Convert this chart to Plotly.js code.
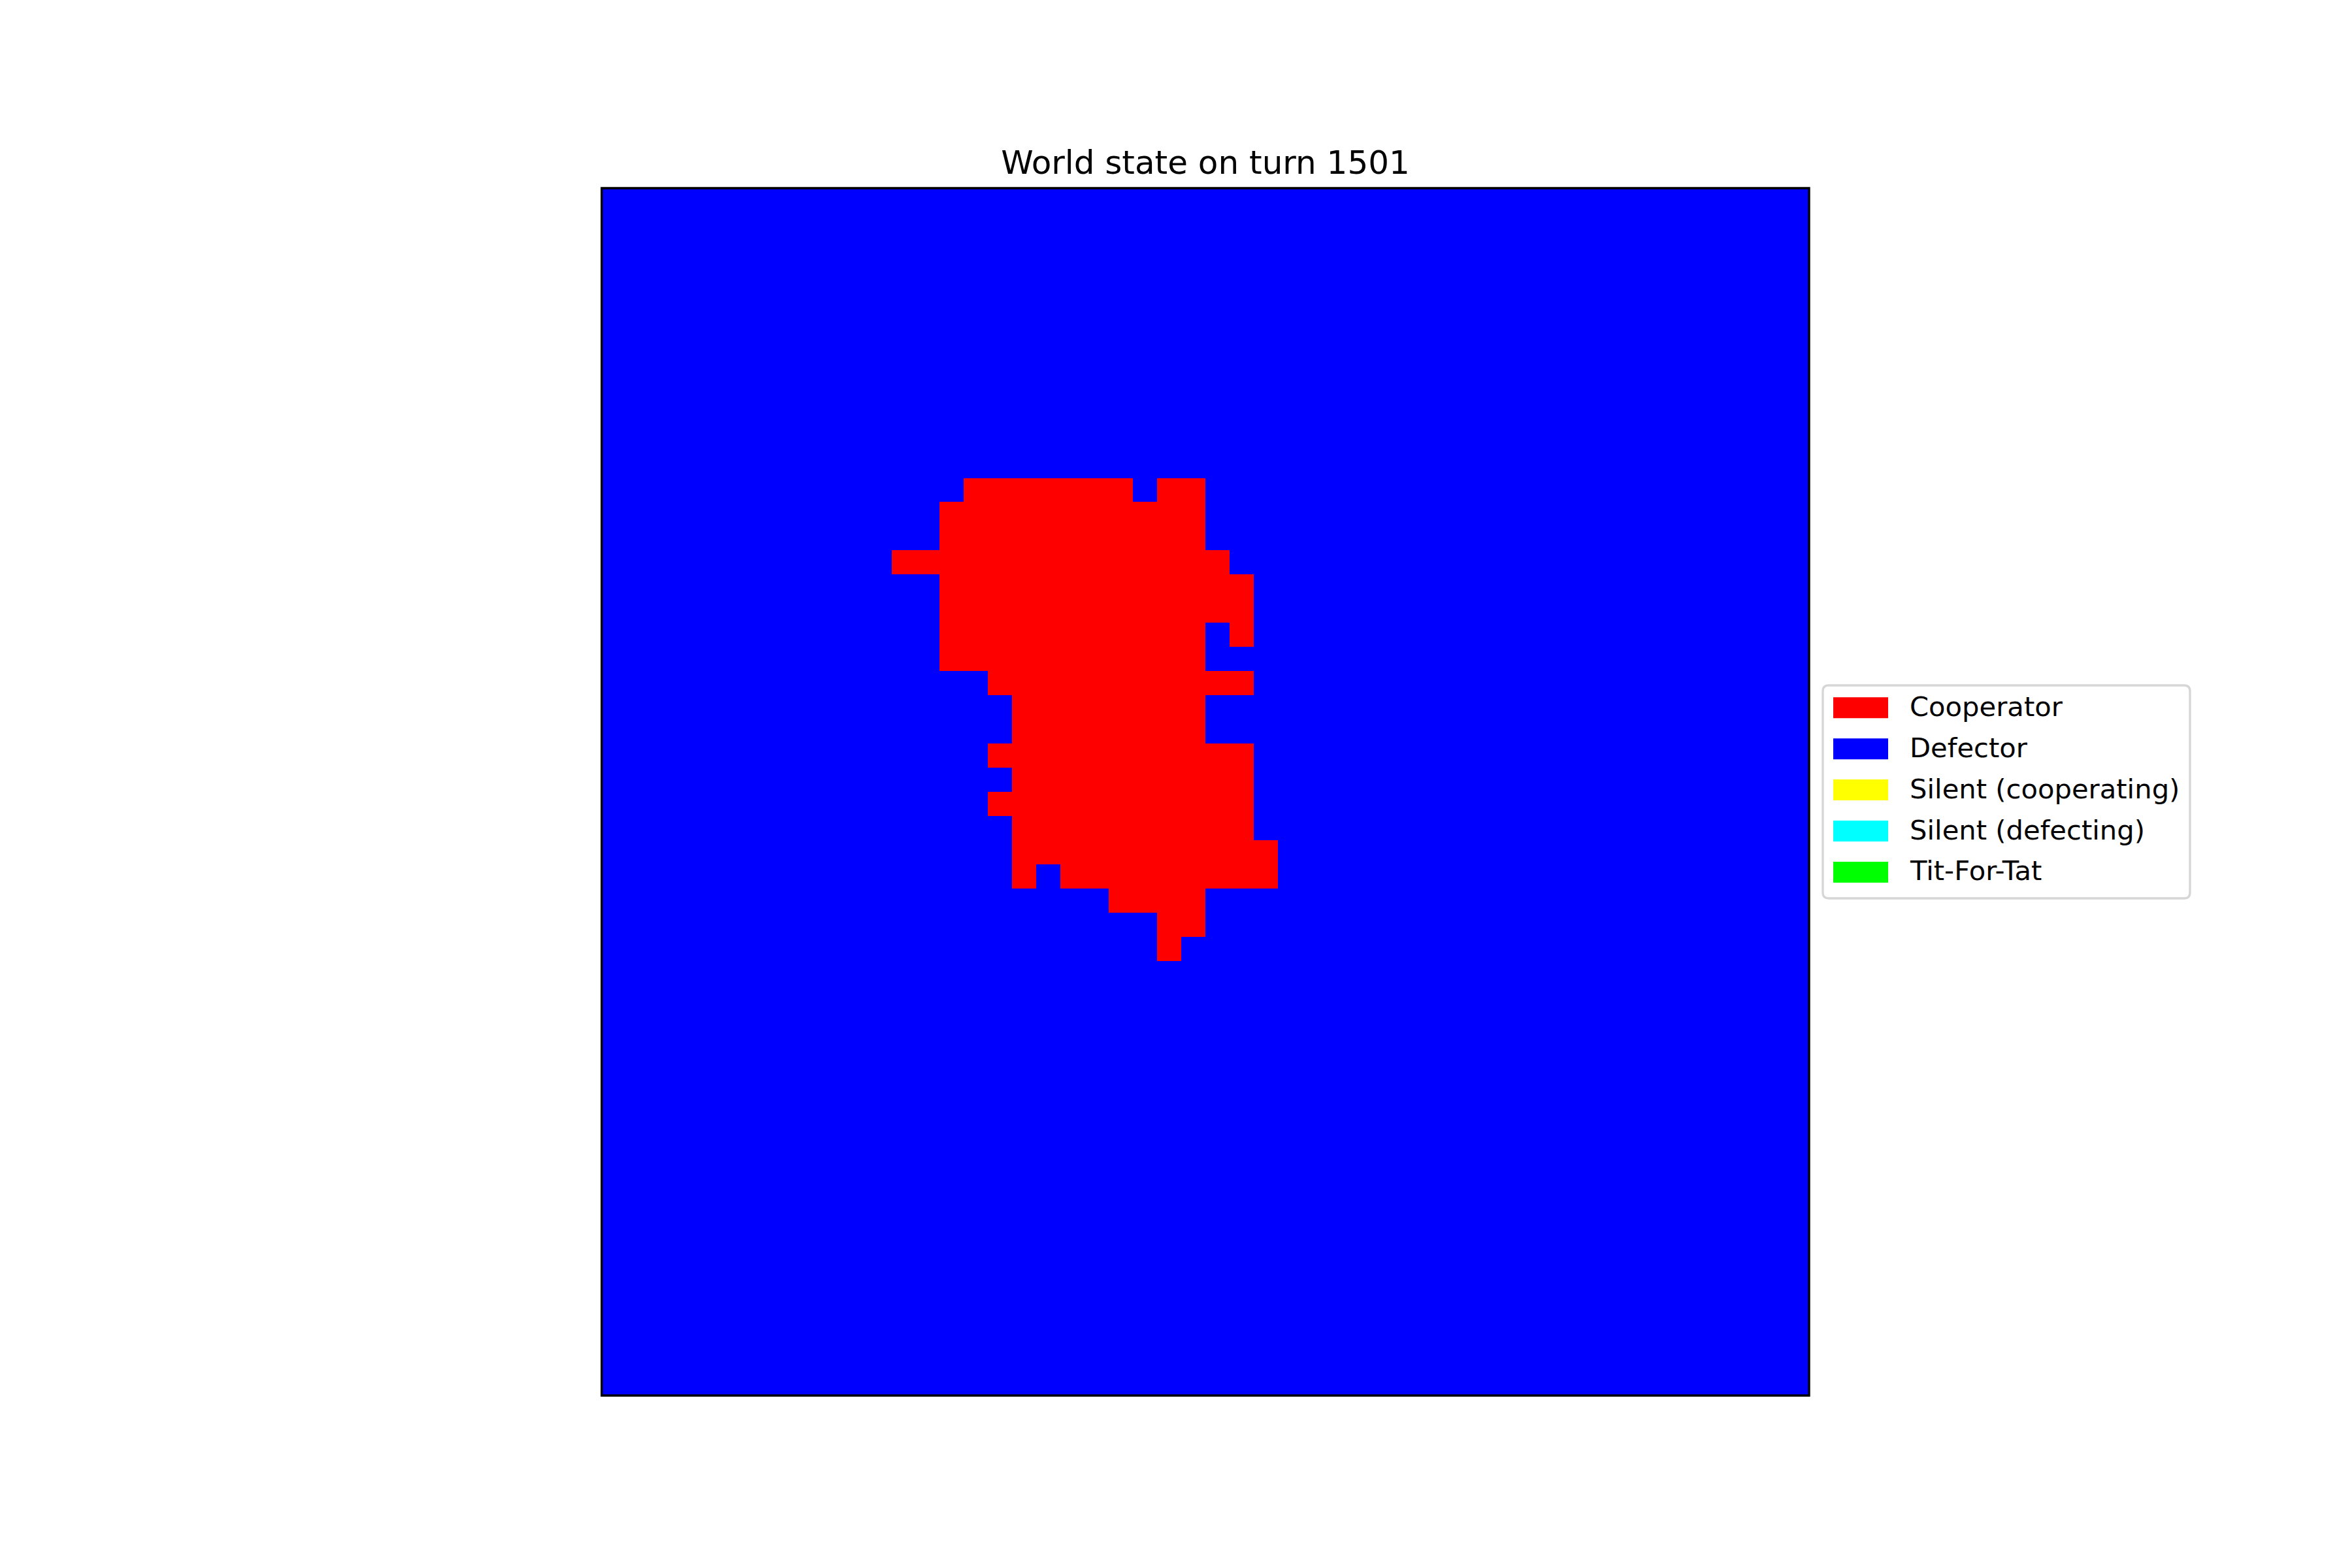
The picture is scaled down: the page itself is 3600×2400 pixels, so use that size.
<!DOCTYPE html>
<html><head><meta charset="utf-8">
<script src="https://cdn.plot.ly/plotly-3.0.1.min.js"></script>
<style>html,body{margin:0;padding:0;background:#fff}</style>
</head><body><div id="chart" style="width:3600px;height:2400px"></div>
<script>
const titleText = 'World state on turn 1501';
const stateNames = ['Cooperator', 'Defector', 'Silent (cooperating)', 'Silent (defecting)', 'Tit-For-Tat'];
const stateColors = ['#ff0000', '#0000ff', '#ffff00', '#00ffff', '#00ff00'];
const stateCodes = ['C', 'D', 'Y', 'S', 'T'];
// 50 x 50 world grid, row 0 at top; one letter per cell (groups of 10 separated by spaces)
const worldRows = [
"DDDDDDDDDD DDDDDDDDDD DDDDDDDDDD DDDDDDDDDD DDDDDDDDDD",
"DDDDDDDDDD DDDDDDDDDD DDDDDDDDDD DDDDDDDDDD DDDDDDDDDD",
"DDDDDDDDDD DDDDDDDDDD DDDDDDDDDD DDDDDDDDDD DDDDDDDDDD",
"DDDDDDDDDD DDDDDDDDDD DDDDDDDDDD DDDDDDDDDD DDDDDDDDDD",
"DDDDDDDDDD DDDDDDDDDD DDDDDDDDDD DDDDDDDDDD DDDDDDDDDD",
"DDDDDDDDDD DDDDDDDDDD DDDDDDDDDD DDDDDDDDDD DDDDDDDDDD",
"DDDDDDDDDD DDDDDDDDDD DDDDDDDDDD DDDDDDDDDD DDDDDDDDDD",
"DDDDDDDDDD DDDDDDDDDD DDDDDDDDDD DDDDDDDDDD DDDDDDDDDD",
"DDDDDDDDDD DDDDDDDDDD DDDDDDDDDD DDDDDDDDDD DDDDDDDDDD",
"DDDDDDDDDD DDDDDDDDDD DDDDDDDDDD DDDDDDDDDD DDDDDDDDDD",
"DDDDDDDDDD DDDDDDDDDD DDDDDDDDDD DDDDDDDDDD DDDDDDDDDD",
"DDDDDDDDDD DDDDDDDDDD DDDDDDDDDD DDDDDDDDDD DDDDDDDDDD",
"DDDDDDDDDD DDDDDCCCCC CCDCCDDDDD DDDDDDDDDD DDDDDDDDDD",
"DDDDDDDDDD DDDDCCCCCC CCCCCDDDDD DDDDDDDDDD DDDDDDDDDD",
"DDDDDDDDDD DDDDCCCCCC CCCCCDDDDD DDDDDDDDDD DDDDDDDDDD",
"DDDDDDDDDD DDCCCCCCCC CCCCCCDDDD DDDDDDDDDD DDDDDDDDDD",
"DDDDDDDDDD DDDDCCCCCC CCCCCCCDDD DDDDDDDDDD DDDDDDDDDD",
"DDDDDDDDDD DDDDCCCCCC CCCCCCCDDD DDDDDDDDDD DDDDDDDDDD",
"DDDDDDDDDD DDDDCCCCCC CCCCCDCDDD DDDDDDDDDD DDDDDDDDDD",
"DDDDDDDDDD DDDDCCCCCC CCCCCDDDDD DDDDDDDDDD DDDDDDDDDD",
"DDDDDDDDDD DDDDDDCCCC CCCCCCCDDD DDDDDDDDDD DDDDDDDDDD",
"DDDDDDDDDD DDDDDDDCCC CCCCCDDDDD DDDDDDDDDD DDDDDDDDDD",
"DDDDDDDDDD DDDDDDDCCC CCCCCDDDDD DDDDDDDDDD DDDDDDDDDD",
"DDDDDDDDDD DDDDDDCCCC CCCCCCCDDD DDDDDDDDDD DDDDDDDDDD",
"DDDDDDDDDD DDDDDDDCCC CCCCCCCDDD DDDDDDDDDD DDDDDDDDDD",
"DDDDDDDDDD DDDDDDCCCC CCCCCCCDDD DDDDDDDDDD DDDDDDDDDD",
"DDDDDDDDDD DDDDDDDCCC CCCCCCCDDD DDDDDDDDDD DDDDDDDDDD",
"DDDDDDDDDD DDDDDDDCCC CCCCCCCCDD DDDDDDDDDD DDDDDDDDDD",
"DDDDDDDDDD DDDDDDDCDC CCCCCCCCDD DDDDDDDDDD DDDDDDDDDD",
"DDDDDDDDDD DDDDDDDDDD DCCCCDDDDD DDDDDDDDDD DDDDDDDDDD",
"DDDDDDDDDD DDDDDDDDDD DDDCCDDDDD DDDDDDDDDD DDDDDDDDDD",
"DDDDDDDDDD DDDDDDDDDD DDDCDDDDDD DDDDDDDDDD DDDDDDDDDD",
"DDDDDDDDDD DDDDDDDDDD DDDDDDDDDD DDDDDDDDDD DDDDDDDDDD",
"DDDDDDDDDD DDDDDDDDDD DDDDDDDDDD DDDDDDDDDD DDDDDDDDDD",
"DDDDDDDDDD DDDDDDDDDD DDDDDDDDDD DDDDDDDDDD DDDDDDDDDD",
"DDDDDDDDDD DDDDDDDDDD DDDDDDDDDD DDDDDDDDDD DDDDDDDDDD",
"DDDDDDDDDD DDDDDDDDDD DDDDDDDDDD DDDDDDDDDD DDDDDDDDDD",
"DDDDDDDDDD DDDDDDDDDD DDDDDDDDDD DDDDDDDDDD DDDDDDDDDD",
"DDDDDDDDDD DDDDDDDDDD DDDDDDDDDD DDDDDDDDDD DDDDDDDDDD",
"DDDDDDDDDD DDDDDDDDDD DDDDDDDDDD DDDDDDDDDD DDDDDDDDDD",
"DDDDDDDDDD DDDDDDDDDD DDDDDDDDDD DDDDDDDDDD DDDDDDDDDD",
"DDDDDDDDDD DDDDDDDDDD DDDDDDDDDD DDDDDDDDDD DDDDDDDDDD",
"DDDDDDDDDD DDDDDDDDDD DDDDDDDDDD DDDDDDDDDD DDDDDDDDDD",
"DDDDDDDDDD DDDDDDDDDD DDDDDDDDDD DDDDDDDDDD DDDDDDDDDD",
"DDDDDDDDDD DDDDDDDDDD DDDDDDDDDD DDDDDDDDDD DDDDDDDDDD",
"DDDDDDDDDD DDDDDDDDDD DDDDDDDDDD DDDDDDDDDD DDDDDDDDDD",
"DDDDDDDDDD DDDDDDDDDD DDDDDDDDDD DDDDDDDDDD DDDDDDDDDD",
"DDDDDDDDDD DDDDDDDDDD DDDDDDDDDD DDDDDDDDDD DDDDDDDDDD",
"DDDDDDDDDD DDDDDDDDDD DDDDDDDDDD DDDDDDDDDD DDDDDDDDDD",
"DDDDDDDDDD DDDDDDDDDD DDDDDDDDDD DDDDDDDDDD DDDDDDDDDD"
];

const z = worldRows.map(r => r.replace(/ /g, '').split('').map(ch => stateCodes.indexOf(ch)));
const nCols = z[0].length, nRows = z.length;
const nStates = stateNames.length;
const colorscale = [];
stateColors.forEach((c, i) => {
  colorscale.push([i / nStates, c]);
  colorscale.push([(i + 1) / nStates, c]);
});

// layout geometry (pixels)
const W = 3600, H = 2400;
const plotL = 921, plotR = 2769, plotT = 288, plotB = 2136;
const pw = plotR - plotL, ph = plotB - plotT;
const X = px => (px - plotL) / pw;
const Y = py => (plotB - py) / ph;

const shapes = [{
  type: 'rect', xref: 'paper', yref: 'paper', x0: 0, y0: 0, x1: 1, y1: 1,
  line: {color: '#000000', width: 3.4}, fillcolor: 'rgba(0,0,0,0)', layer: 'above'
}];
// legend box
const bL = 2790, bR = 3352, bT = 1049, bB = 1375, rr = 9;
shapes.push({
  type: 'path', xref: 'paper', yref: 'paper', layer: 'above',
  path: `M ${X(bL + rr)},${Y(bT)} L ${X(bR - rr)},${Y(bT)} Q ${X(bR)},${Y(bT)} ${X(bR)},${Y(bT + rr)} ` +
        `L ${X(bR)},${Y(bB - rr)} Q ${X(bR)},${Y(bB)} ${X(bR - rr)},${Y(bB)} ` +
        `L ${X(bL + rr)},${Y(bB)} Q ${X(bL)},${Y(bB)} ${X(bL)},${Y(bB - rr)} ` +
        `L ${X(bL)},${Y(bT + rr)} Q ${X(bL)},${Y(bT)} ${X(bL + rr)},${Y(bT)} Z`,
  fillcolor: '#ffffff', line: {color: '#d6d6d6', width: 3.3}
});
const annotations = [];
const row0 = 1083.3, rowStep = 62.9, patchL = 2806, patchR = 2890, patchH = 32, textX = 2922, textShift = -2;
stateNames.forEach((name, i) => {
  const cy = row0 + i * rowStep;
  shapes.push({
    type: 'rect', xref: 'paper', yref: 'paper', layer: 'above',
    x0: X(patchL), x1: X(patchR), y0: Y(cy + patchH / 2), y1: Y(cy - patchH / 2),
    fillcolor: stateColors[i], line: {width: 0}
  });
  annotations.push({
    xref: 'paper', yref: 'paper', x: X(textX), y: Y(cy + textShift), xanchor: 'left', yanchor: 'middle',
    text: name, showarrow: false, borderpad: 0,
    font: {family: 'DejaVu Sans', size: 41.7, color: '#000000'}
  });
});

const data = [{
  type: 'heatmap', z: z,
  x: Array.from({length: nCols}, (_, i) => i),
  y: Array.from({length: nRows}, (_, i) => i),
  zmin: 0, zmax: nStates - 1, colorscale: colorscale, showscale: false, hoverinfo: 'skip'
}];

const axisCommon = {showticklabels: false, ticks: '', showgrid: false, zeroline: false, showline: false, fixedrange: true};
const layout = {
  width: W, height: H,
  margin: {l: plotL, r: W - plotR, t: plotT, b: H - plotB, pad: 0},
  paper_bgcolor: '#ffffff', plot_bgcolor: '#ffffff',
  title: {
    text: titleText, xref: 'paper', x: 0.5, xanchor: 'center',
    yref: 'container', y: 1 - 266 / H, yanchor: 'bottom',
    font: {family: 'DejaVu Sans', size: 50, color: '#000000'}
  },
  xaxis: Object.assign({range: [-0.5, nCols - 0.5]}, axisCommon),
  yaxis: Object.assign({range: [nRows - 0.5, -0.5]}, axisCommon),
  showlegend: false,
  shapes: shapes,
  annotations: annotations
};
Plotly.newPlot('chart', data, layout, {staticPlot: true});
</script></body></html>
